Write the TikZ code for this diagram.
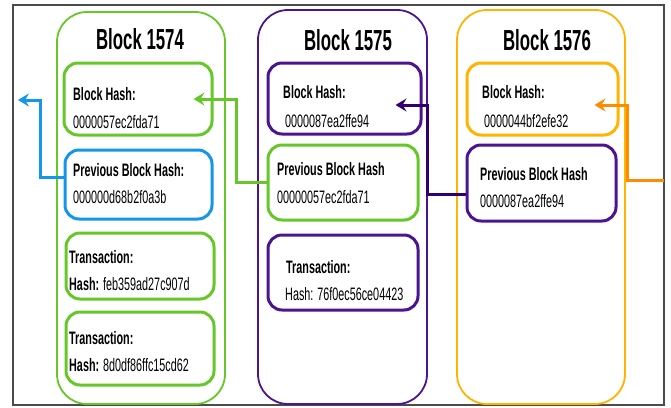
\documentclass[tikz,border=0pt]{standalone}
\usepackage{fontspec}
\setmainfont{Liberation Sans}
\newfontfamily\cf[FakeStretch=0.6]{Liberation Sans}
\newfontfamily\tf[FakeStretch=0.58]{Liberation Sans}
\usetikzlibrary{arrows.meta,fit}
\definecolor{cgreen}{RGB}{102,200,40}
\definecolor{cblue}{RGB}{20,150,235}
\definecolor{cpurple}{RGB}{75,20,145}
\definecolor{cpurpledk}{RGB}{50,0,110}
\definecolor{corange}{RGB}{255,180,0}
\definecolor{corangedk}{RGB}{255,140,0}
\definecolor{cframe}{RGB}{75,75,75}
\begin{document}
\begin{tikzpicture}[x=1pt,y=-1pt,
  blk/.style={draw, line width=1.8pt, rounded corners=30pt, inner sep=0pt},
  ibox/.style={draw, line width=3pt, rounded corners=14pt, inner sep=0pt},
  ttl/.style={font=\tf\fontsize{29}{32}\selectfont\bfseries, anchor=base, inner sep=0pt},
  txt/.style={font=\cf\fontsize{18}{20}\selectfont, anchor=base west, inner sep=0pt},
  lnk/.style={line width=3pt, -{Stealth[length=11pt,width=13pt,inset=4pt]}}]
\useasboundingbox (0,0) rectangle (671,407);
\fill[white] (0,0) rectangle (671,407);
\draw[cframe, line width=2pt] (12.5,4.5) rectangle (664,405);

% outer blocks
\node[blk, cgreen, fit={(57,12) (225,404)}] (blkA) {};
\node[blk, cpurple, fit={(258,10) (427,404)}] (blkB) {};
\node[blk, corange, fit={(457,10) (625,404)}] (blkC) {};

\node[ttl] (tA) at (140,49) {Block 1574};
\node[ttl] (tB) at (348,50) {Block 1575};
\node[ttl] (tC) at (547,50) {Block 1576};

% Block 1574 inner boxes
\node[ibox, cgreen, fit={(64,63) (212,135)}] (bhA) {};
\node[ibox, cblue, fit={(65,150) (212,219)}] (pbA) {};
\node[ibox, cgreen, fit={(66,233) (214,299)}] (t1A) {};
\node[ibox, cgreen, fit={(66,312) (214,385)}] (t2A) {};

\node[txt] (bhA1) at (73,100) {\bfseries Block Hash:};
\node[txt] (bhA2) at (73,128) {0000057ec2fda71};
\node[txt] (pbA1) at (73,176) {\bfseries Previous Block Hash:};
\node[txt] (pbA2) at (73,203) {000000d68b2f0a3b};
\node[txt] (t1A1) at (69,263) {\bfseries Transaction:};
\node[txt] (t1A2) at (69,290) {{\bfseries Hash:} feb359ad27c907d};
\node[txt] (t2A1) at (69,344) {\bfseries Transaction:};
\node[txt] (t2A2) at (69,371) {{\bfseries Hash:} 8d0df86ffc15cd62};

% Block 1575 inner boxes
\node[ibox, cpurple, fit={(268,63) (421,134)}] (bhB) {};
\node[ibox, cgreen, fit={(268,145) (418,220)}] (pbB) {};
\node[ibox, cpurple, fit={(268,235) (418,310)}] (tB1box) {};

\node[txt] (bhB1) at (283,98) {\bfseries Block Hash:};
\node[txt] (bhB2) at (285,127) {0000087ea2ffe94};
\node[txt] (pbB1) at (277,175) {\bfseries Previous Block Hash};
\node[txt] (pbB2) at (277,203) {00000057ec2fda71};
\node[txt] (tB11) at (286,273) {\bfseries Transaction:};
\node[txt] (tB12) at (285,300) {Hash: 76f0ec56ce04423};

% Block 1576 inner boxes
\node[ibox, corange, fit={(467,63) (618,135)}] (bhC) {};
\node[ibox, cpurple, fit={(467,145) (616,221)}] (pbC) {};

\node[txt] (bhC1) at (482,98) {\bfseries Block Hash:};
\node[txt] (bhC2) at (484,127) {0000044bf2efe32};
\node[txt] (pbC1) at (480,180) {\bfseries Previous Block Hash};
\node[txt] (pbC2) at (480,207) {0000087ea2ffe94};

% links
\coordinate (outA) at (18,100);
\coordinate (inC) at (664,180);
\draw[lnk, cblue] ([yshift=7.5pt]pbA.west) -- ++(-23,0) |- (outA);
\draw[lnk, cgreen] (pbB.west) -- ++(-30,0) |- ([xshift=-20pt]bhA.east);
\draw[lnk, cpurpledk] ([yshift=-11pt]pbC.west) -- ++(-38,0) |- ([xshift=-27pt,yshift=-6.5pt]bhB.east);
\draw[lnk, corangedk] (inC) -- ++(-37,0) |- ([xshift=-25pt,yshift=-6pt]bhC.east);
\end{tikzpicture}
\end{document}
